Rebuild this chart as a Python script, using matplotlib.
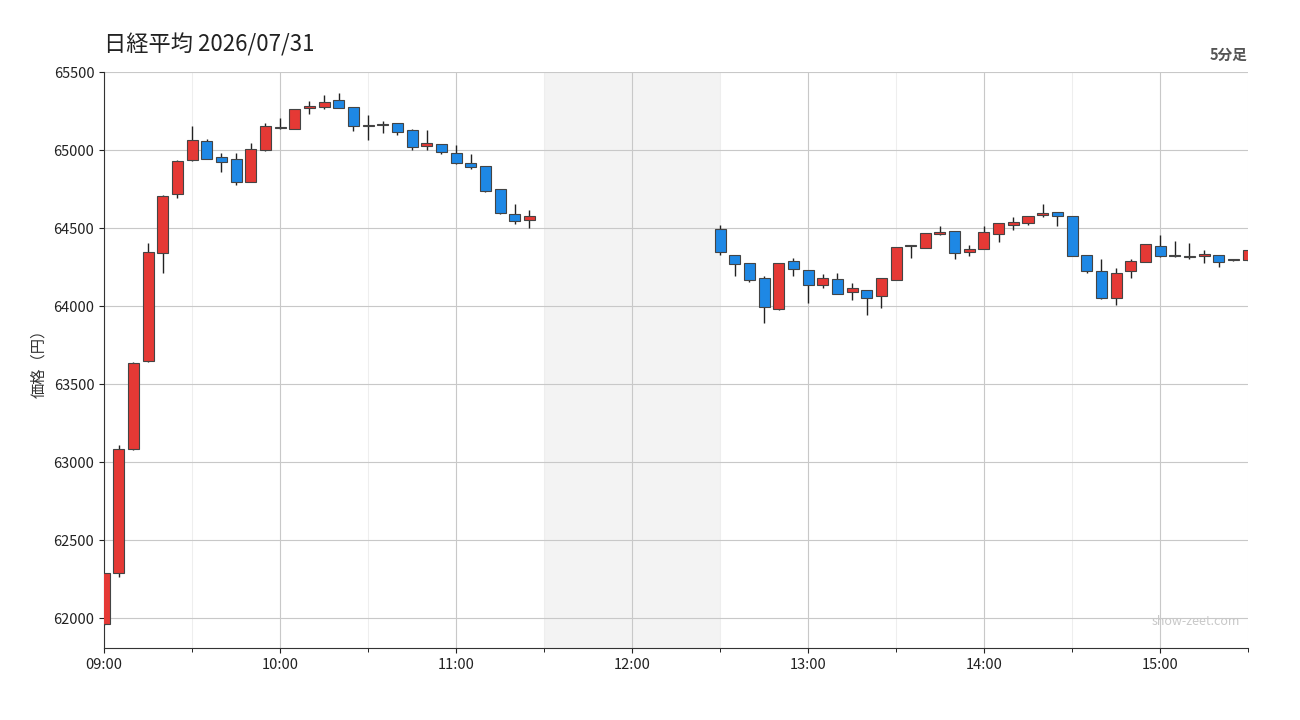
import matplotlib
matplotlib.use("Agg")
import matplotlib.pyplot as plt
from matplotlib.patches import Rectangle
from matplotlib.ticker import MultipleLocator, FuncFormatter

plt.rcParams['font.family'] = ['Noto Sans CJK JP', 'DejaVu Sans']

# minutes after 09:00
am_times = list(range(0, 150, 5))
pm_times = list(range(210, 395, 5))
times = am_times + pm_times

opens = [61960, 62290, 63083, 63650, 64340, 64718, 64934, 65058, 64955, 64942,
         64797, 64998, 65145, 65137, 65267, 65274, 65319, 65274, 65152, 65158,
         65173, 65126, 65024, 65037, 64979, 64915, 64896, 64750, 64588, 64550,
         64496, 64325, 64274, 64178, 63979, 64288, 64229, 64137, 64171, 64088,
         64101, 64066, 64169, 64385, 64374, 64464, 64479, 64348, 64368, 64464,
         64521, 64534, 64586, 64601, 64575, 64325, 64222, 64053, 64227, 64284,
         64383, 64325, 64318, 64319, 64325, 64293, 64293]
closes = [62290, 63083, 63635, 64346, 64705, 64929, 65062, 64944, 64921, 64797,
          65004, 65152, 65140, 65261, 65280, 65306, 65271, 65152, 65152, 65165,
          65114, 65017, 65043, 64985, 64915, 64889, 64735, 64594, 64543, 64575,
          64344, 64267, 64169, 63992, 64274, 64235, 64137, 64178, 64079, 64114,
          64053, 64178, 64377, 64383, 64466, 64474, 64338, 64363, 64472, 64530,
          64538, 64575, 64596, 64580, 64323, 64227, 64051, 64210, 64287, 64398,
          64323, 64320, 64313, 64333, 64280, 64293, 64357]
highs = [62290, 63109, 63640, 64404, 64710, 64935, 65154, 65071, 64981, 64981,
         65047, 65176, 65207, 65265, 65316, 65355, 65367, 65276, 65226, 65188,
         65176, 65135, 65130, 65040, 65032, 64974, 64898, 64752, 64654, 64615,
         64519, 64327, 64276, 64192, 64276, 64308, 64231, 64207, 64212, 64147,
         64103, 64180, 64379, 64387, 64468, 64513, 64481, 64389, 64513, 64532,
         64571, 64577, 64656, 64603, 64577, 64327, 64301, 64242, 64301, 64400,
         64455, 64417, 64404, 64359, 64327, 64295, 64359]
lows = [61955, 62263, 63080, 63640, 64212, 64692, 64932, 64940, 64859, 64776,
        64795, 64996, 65135, 65135, 65233, 65261, 65269, 65124, 65066, 65111,
        65098, 65000, 65002, 64974, 64913, 64878, 64733, 64592, 64528, 64502,
        64329, 64192, 64156, 63893, 63977, 64192, 64021, 64117, 64077, 64038,
        63945, 63990, 64167, 64308, 64372, 64458, 64301, 64323, 64366, 64410,
        64490, 64519, 64573, 64515, 64321, 64212, 64045, 64006, 64179, 64282,
        64314, 64315, 64303, 64278, 64252, 64291, 64291]

fig = plt.figure(figsize=(13, 7.2), dpi=100)
ax = fig.add_axes([104/1300, 1-648/720, (1248-104)/1300, (648-72)/720])

ax.axvspan(150, 210, color='#f3f3f3', zorder=0, lw=0)
for t in range(0, 391, 60):
    ax.axvline(t, color='#c8c8c8', lw=0.8, zorder=1)
for t in range(30, 391, 60):
    ax.axvline(t, color='#eeeeee', lw=0.8, zorder=1)
for v in range(62000, 65501, 500):
    ax.axhline(v, color='#c8c8c8', lw=0.8, zorder=1)

w = 3.75
for t, o, c, h, l in zip(times, opens, closes, highs, lows):
    up = c >= o
    col = '#e53935' if up else '#1e88e5'
    ax.vlines(t, l, h, color='#222222', lw=1.0, zorder=2)
    bot = min(o, c)
    hgt = max(abs(c - o), 6)
    ax.add_patch(Rectangle((t - w/2, bot), w, hgt, facecolor=col,
                           edgecolor='#444444', lw=0.8, zorder=3))

ax.set_xlim(0, 390)
ax.set_ylim(61808, 65500)
ax.xaxis.set_major_locator(MultipleLocator(60))
ax.xaxis.set_minor_locator(MultipleLocator(30))
ax.xaxis.set_major_formatter(FuncFormatter(lambda x, p: f"{9 + int(x)//60:02d}:{int(x)%60:02d}"))
ax.yaxis.set_major_locator(MultipleLocator(500))
for s in ['top', 'right']:
    ax.spines[s].set_visible(False)
ax.spines['left'].set_color('#333333')
ax.spines['bottom'].set_color('#333333')
ax.tick_params(labelsize=10.5, colors='#222222')
ax.tick_params(which='minor', length=3)
ax.set_ylabel('価格（円）', fontsize=11, color='#333333')

fig.text(104/1300, 1-45/720, '日経平均 2026/07/31', fontsize=16, color='#222222', va='center')
fig.text(1248/1300, 1-55/720, '5分足', fontsize=10.5, color='#555555', weight='bold',
         ha='right', va='center')
ax.text(0.993, 0.035, 'show-zeet.com', transform=ax.transAxes, ha='right', va='bottom',
        fontsize=9, color='#c8c8c8')

fig.savefig('out.png', dpi=100)
